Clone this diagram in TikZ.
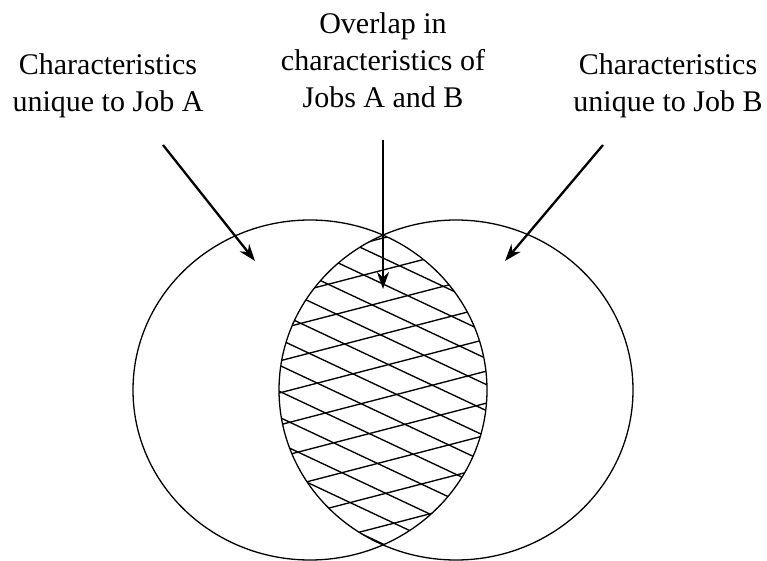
\documentclass[tikz,border=0pt]{standalone}
\usepackage{fontspec}
\setmainfont{Liberation Serif}
\usetikzlibrary{arrows.meta}
\begin{document}
\begin{tikzpicture}[x=1pt,y=-1pt,
  ring/.style={line width=1.3pt},
  hatchline/.style={line width=1.35pt},
  pointer/.style={line width=2.3pt,-{Stealth[length=17pt,width=12pt]}},
  txt/.style={font=\fontsize{30}{37}\selectfont,align=center,inner sep=0pt}]
\useasboundingbox (0,0) rectangle (767,561);
% texts
\node[txt] (tA) at (108,86) {Characteristics\\unique to Job A};
\node[txt] (tO) at (383,60) {Overlap in\\characteristics of\\Jobs A and B};
\node[txt] (tB) at (668,86) {Characteristics\\unique to Job B};
% hatching of overlap
\begin{scope}
  \clip (310,390) ellipse [x radius=177pt, y radius=170pt];
  \clip (456,390) ellipse [x radius=177pt, y radius=170pt];
  \foreach \k in {-7,...,7}{
    \draw[hatchline] (250,{388+26*\k-62.5}) -- (520,{388+26*\k+64.4});
  }
  \foreach \k in {-6,...,6}{
    \draw[hatchline] (250,{398+32*\k+34.6}) -- (520,{398+32*\k-35.6});
  }
\end{scope}
% circles
\draw[ring] (310,390) ellipse [x radius=177pt, y radius=170pt];
\draw[ring] (456,390) ellipse [x radius=177pt, y radius=170pt];
% arrows
\coordinate (aS) at (163,145);
\coordinate (aE) at (255,261);
\coordinate (oS) at (383,140);
\coordinate (oE) at (383,289);
\coordinate (bS) at (603,145);
\coordinate (bE) at (505,261);
\draw[pointer] (aS) -- (aE);
\draw[pointer] (oS) -- (oE);
\draw[pointer] (bS) -- (bE);
\end{tikzpicture}
\end{document}
